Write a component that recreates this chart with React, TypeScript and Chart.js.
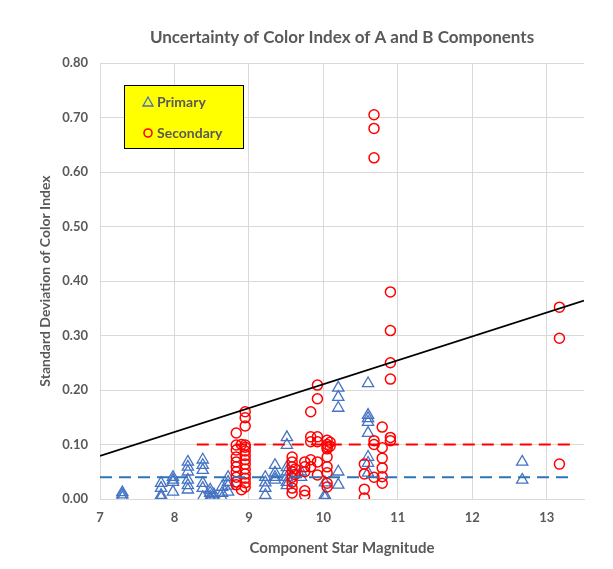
import React, { useEffect, useRef } from "react";
import { Chart, registerables } from "chart.js";
Chart.register(...registerables);

const TITLE = "Uncertainty of Color Index of A and B Components";
const X_TITLE = "Component Star Magnitude";
const Y_TITLE = "Standard Deviation of Color Index";
const LEGEND_LABELS = ["Primary", "Secondary"];

const xTicks = [7, 8, 9, 10, 11, 12, 13];
const yTicks = [0, 0.1, 0.2, 0.3, 0.4, 0.5, 0.6, 0.7, 0.8];

// Primary (A) components
const primaryMag = [
  7.3, 7.3, 7.3,
  7.82, 7.82, 7.82, 7.82,
  7.98, 7.98, 7.98, 7.98,
  8.18, 8.18, 8.18, 8.18, 8.18, 8.18,
  8.38, 8.38, 8.38, 8.38, 8.38, 8.38,
  8.48, 8.48, 8.48, 8.48,
  8.53, 8.53,
  8.64, 8.64, 8.64,
  8.72, 8.72, 8.72, 8.72,
  9.22, 9.22, 9.22, 9.22,
  9.35, 9.35, 9.35, 9.35,
  9.51, 9.51, 9.51, 9.51, 9.51, 9.51, 9.51,
  9.7, 9.7,
  10.02, 10.02, 10.02,
  10.2, 10.2, 10.2, 10.2, 10.2,
  10.6, 10.6, 10.6, 10.6, 10.6, 10.6, 10.6, 10.6,
  12.67, 12.67,
];
const primarySD = [
  0.003, 0.008, 0.012,
  0.029, 0.02, 0.007, 0.003,
  0.04, 0.035, 0.031, 0.013,
  0.068, 0.059, 0.05, 0.035, 0.025, 0.017,
  0.072, 0.062, 0.053, 0.029, 0.02, 0.003,
  0.017, 0.011, 0.004, 0.0,
  0.008, 0.002,
  0.022, 0.011, 0.002,
  0.04, 0.031, 0.024, 0.013,
  0.04, 0.03, 0.02, 0.007,
  0.062, 0.048, 0.04, 0.035,
  0.113, 0.099, 0.058, 0.05, 0.04, 0.031, 0.025,
  0.05, 0.04,
  0.03, 0.007, 0.002,
  0.204, 0.187, 0.167, 0.05, 0.026,
  0.212, 0.154, 0.148, 0.141, 0.121, 0.077, 0.066, 0.048,
  0.068, 0.035,
];

// Secondary (B) components
const secondaryMag = [
  8.83, 8.83, 8.83, 8.83, 8.83, 8.83, 8.83, 8.83, 8.83, 8.83,
  8.95, 8.95, 8.95, 8.95, 8.95, 8.95, 8.95, 8.95, 8.95, 8.95, 8.95, 8.95, 8.95, 8.95,
  8.9, 8.9,
  9.58, 9.58, 9.58, 9.58, 9.58, 9.58, 9.58, 9.58,
  9.62, 9.62,
  9.75, 9.75, 9.75, 9.75, 9.75,
  9.83, 9.83, 9.83, 9.83, 9.83,
  9.92, 9.92, 9.92, 9.92, 9.92, 9.92,
  10.05, 10.05, 10.05, 10.05, 10.05, 10.05, 10.05, 10.05, 10.05,
  10.09, 10.09,
  10.55, 10.55, 10.55, 10.55,
  10.68, 10.68, 10.68, 10.68, 10.68, 10.68,
  10.79, 10.79, 10.79, 10.79, 10.79, 10.79,
  10.9, 10.9, 10.9, 10.9, 10.9, 10.9,
  13.17, 13.17, 13.17,
];
const secondarySD = [
  0.121, 0.099, 0.09, 0.077, 0.068, 0.059, 0.05, 0.04, 0.031, 0.026,
  0.16, 0.149, 0.134, 0.099, 0.095, 0.088, 0.08, 0.072, 0.064, 0.055, 0.046, 0.038, 0.03, 0.022,
  0.017, 0.1,
  0.077, 0.068, 0.059, 0.05, 0.04, 0.031, 0.02, 0.011,
  0.045, 0.055,
  0.068, 0.059, 0.05, 0.015, 0.007,
  0.16, 0.114, 0.105, 0.072, 0.059,
  0.209, 0.184, 0.114, 0.105, 0.068, 0.044,
  0.108, 0.1, 0.096, 0.092, 0.077, 0.059, 0.048, 0.029, 0.022,
  0.104, 0.097,
  0.064, 0.046, 0.018, 0.002,
  0.705, 0.68, 0.626, 0.107, 0.1, 0.04,
  0.132, 0.094, 0.075, 0.057, 0.041, 0.029,
  0.38, 0.309, 0.25, 0.22, 0.113, 0.107,
  0.352, 0.295, 0.064,
];

// Reference lines
const trendX = [7, 13.5];
const trendY = [0.079, 0.364];
const secondaryLimitX = [8.3, 13.35];
const secondaryLimitY = [0.1, 0.1];
const primaryLimitX = [7, 13.35];
const primaryLimitY = [0.04, 0.04];

const TEXT = "#595959";
const FONT = "Lato, 'Open Sans', sans-serif";
const BLUE = "#4472C4";
const RED = "#FF0000";

const zip = (xs: number[], ys: number[]) => xs.map((x, i) => ({ x, y: ys[i] }));

const decorPlugin = {
  id: "decor",
  afterDraw(chart: any) {
    const ctx = chart.ctx;
    const area = chart.chartArea;
    ctx.save();
    ctx.fillStyle = TEXT;
    ctx.textAlign = "center";
    ctx.textBaseline = "middle";
    ctx.font = `bold 17px ${FONT}`;
    ctx.fillText(TITLE, (area.left + area.right) / 2, 38);
    ctx.font = `bold 15px ${FONT}`;
    ctx.fillText(X_TITLE, (area.left + area.right) / 2, 548);
    ctx.save();
    ctx.translate(45, (area.top + area.bottom) / 2);
    ctx.rotate(-Math.PI / 2);
    ctx.font = `bold 14px ${FONT}`;
    ctx.fillText(Y_TITLE, 0, 0);
    ctx.restore();

    // legend box
    const bx = 124, by = 85, bw = 119, bh = 63;
    ctx.fillStyle = "#FFFF00";
    ctx.fillRect(bx, by, bw, bh);
    ctx.strokeStyle = "#000000";
    ctx.lineWidth = 1;
    ctx.strokeRect(bx + 0.5, by + 0.5, bw, bh);

    // triangle marker
    const tx = 148, ty = 102;
    ctx.strokeStyle = BLUE;
    ctx.lineWidth = 1.3;
    ctx.beginPath();
    ctx.moveTo(tx, ty - 5);
    ctx.lineTo(tx + 5, ty + 4);
    ctx.lineTo(tx - 5, ty + 4);
    ctx.closePath();
    ctx.stroke();
    // circle marker
    ctx.strokeStyle = RED;
    ctx.lineWidth = 1.6;
    ctx.beginPath();
    ctx.arc(148, 133, 4, 0, Math.PI * 2);
    ctx.stroke();

    ctx.fillStyle = TEXT;
    ctx.textAlign = "left";
    ctx.font = `bold 14px ${FONT}`;
    ctx.fillText(LEGEND_LABELS[0], 157, 102);
    ctx.fillText(LEGEND_LABELS[1], 157, 133);
    ctx.restore();
  },
};

export default function App() {
  const ref = useRef<HTMLCanvasElement | null>(null);
  useEffect(() => {
    if (!ref.current) return;
    const chart = new Chart(ref.current, {
      type: "scatter",
      data: {
        datasets: [
          {
            type: "line",
            label: "trend",
            data: zip(trendX, trendY),
            borderColor: "#000000",
            borderWidth: 1.6,
            pointRadius: 0,
            showLine: true,
            fill: false,
          } as any,
          {
            type: "line",
            label: "secLimit",
            data: zip(secondaryLimitX, secondaryLimitY),
            borderColor: RED,
            borderWidth: 2,
            borderDash: [12, 7],
            pointRadius: 0,
            showLine: true,
            fill: false,
          } as any,
          {
            type: "line",
            label: "priLimit",
            data: zip(primaryLimitX, primaryLimitY),
            borderColor: "#2E75B6",
            borderWidth: 2,
            borderDash: [12, 7],
            pointRadius: 0,
            showLine: true,
            fill: false,
          } as any,
          {
            label: "Secondary",
            data: zip(secondaryMag, secondarySD),
            pointStyle: "circle",
            pointRadius: 5,
            borderColor: RED,
            borderWidth: 1.5,
            backgroundColor: "rgba(0,0,0,0)",
          },
          {
            label: "Primary",
            data: zip(primaryMag, primarySD),
            pointStyle: "triangle",
            pointRadius: 6.5,
            borderColor: BLUE,
            borderWidth: 1.3,
            backgroundColor: "rgba(0,0,0,0)",
          },
        ],
      },
      options: {
        animation: false,
        responsive: true,
        maintainAspectRatio: false,
        layout: { padding: { top: 63, right: 29, left: 0, bottom: 0 } },
        plugins: {
          legend: { display: false },
          title: { display: false },
          tooltip: { enabled: false },
        },
        scales: {
          x: {
            type: "linear",
            min: 7,
            max: 13.5,
            afterFit: (s: any) => {
              s.height = 70;
            },
            afterBuildTicks: (s: any) => {
              s.ticks = xTicks.map((v) => ({ value: v }));
            },
            ticks: {
              color: TEXT,
              font: { family: FONT, size: 13, weight: "bold" },
              padding: 11,
              callback: (v: any) => String(v),
            },
            grid: { color: "#d9d9d9", drawTicks: false, lineWidth: 1 },
            border: { color: "#d9d9d9" },
          },
          y: {
            type: "linear",
            min: 0,
            max: 0.8,
            afterFit: (s: any) => {
              s.width = 100;
            },
            afterBuildTicks: (s: any) => {
              s.ticks = yTicks.map((v) => ({ value: v }));
            },
            ticks: {
              color: TEXT,
              font: { family: FONT, size: 13, weight: "bold" },
              padding: 12,
              callback: (v: any) => Number(v).toFixed(2),
            },
            grid: { color: "#d9d9d9", drawTicks: false, lineWidth: 1 },
            border: { display: false },
          },
        },
      },
      plugins: [decorPlugin],
    } as any);
    return () => chart.destroy();
  }, []);
  return (
    <div style={{ position: "fixed", left: 0, top: 0, width: 613, height: 569, background: "#fff" }}>
      <canvas ref={ref} />
    </div>
  );
}
